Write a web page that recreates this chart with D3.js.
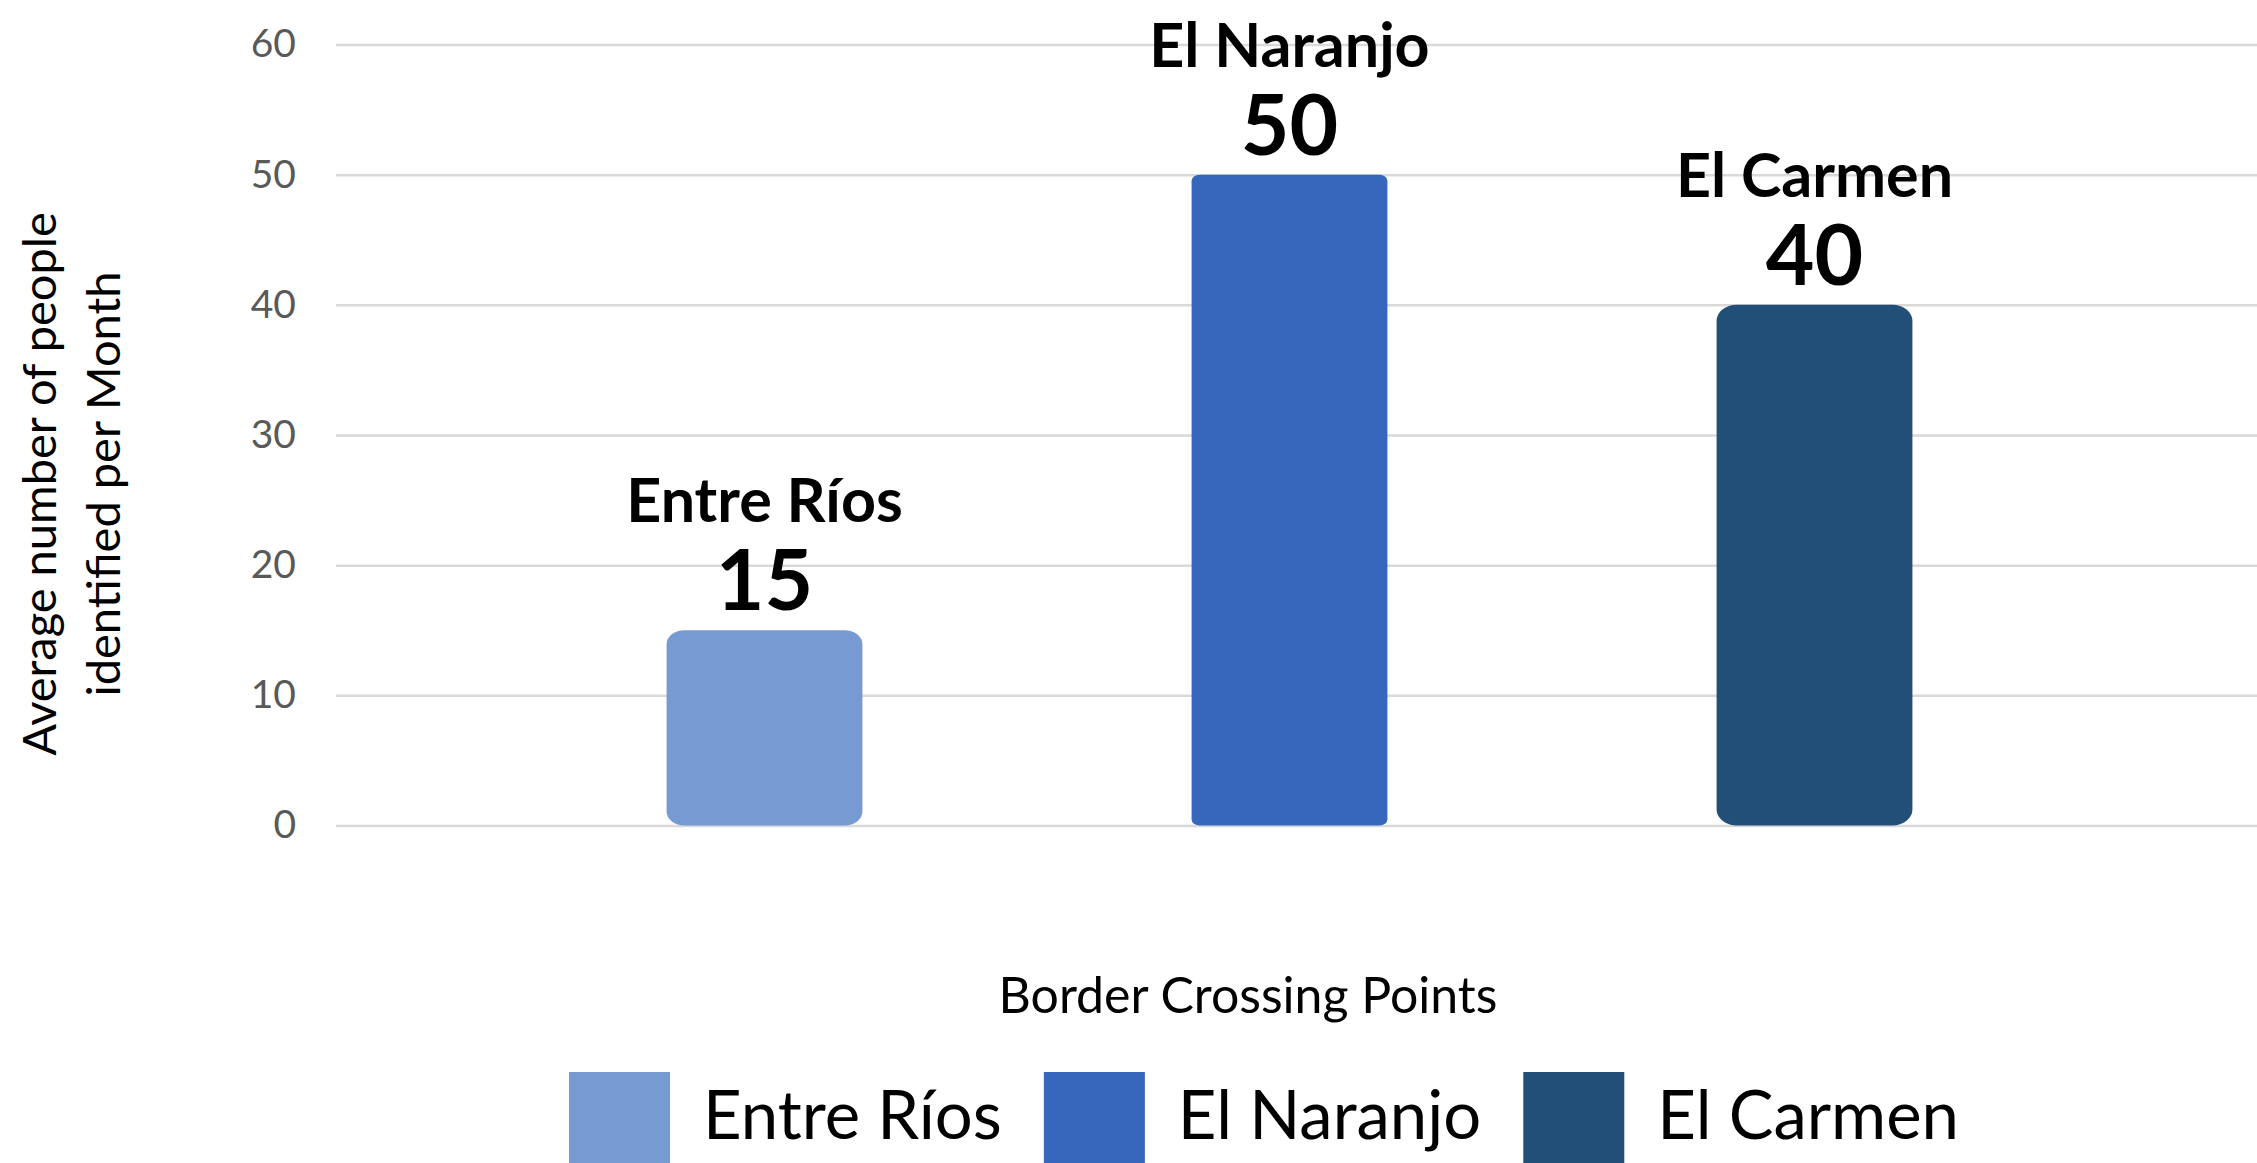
<!DOCTYPE html>
<html>
<head>
<meta charset="utf-8">
<script src="https://cdn.jsdelivr.net/npm/d3@7"></script>
<style>
  html, body { margin: 0; padding: 0; background: #fff; }
  svg { display: block; }
  text { font-family: Lato, "Open Sans", sans-serif; }
</style>
</head>
<body>
<svg id="chart" width="2257" height="1163"></svg>
<script>
// ---- data ----
const categories = ["Entre Ríos", "El Naranjo", "El Carmen"];
const values = [15, 50, 40];
const yTicks = [0, 10, 20, 30, 40, 50, 60];
const xAxisTitle = "Border Crossing Points";
const yAxisTitleLines = ["Average number of people", "identified per Month"];

// ---- styling ----
const colors = ["#779AD3", "#3766BD", "#224F78"];
const corner = [[18, 14], [8, 6], [20, 16]];

const W = 2257, H = 1163;
const svg = d3.select("#chart");

const y = d3.scaleLinear().domain([0, 60]).range([825.5, 44.5]);
const x = d3.scaleBand().domain(categories)
  .range([502, 2077]).paddingInner(0.627).paddingOuter(0.3135);
const color = d3.scaleOrdinal().domain(categories).range(colors);

// gridlines + tick labels
const gx0 = 336;
const yAxis = d3.axisLeft(y).tickValues(yTicks).tickSize(-(W - gx0)).tickPadding(40);
const ga = svg.append("g").attr("transform", `translate(${gx0},0)`).call(yAxis);
ga.select(".domain").remove();
ga.selectAll(".tick line").attr("stroke", "#d9d9d9").attr("stroke-width", 2.5);
ga.selectAll(".tick text")
  .attr("fill", "#595959")
  .style("font-family", "Lato, sans-serif")
  .style("font-size", "39px");

// bars
svg.append("g").selectAll("rect").data(categories).join("rect")
  .attr("x", d => x(d))
  .attr("width", x.bandwidth())
  .attr("y", (d, i) => y(values[i]))
  .attr("height", (d, i) => y(0) - y(values[i]))
  .attr("rx", (d, i) => corner[i][0])
  .attr("ry", (d, i) => corner[i][1])
  .attr("fill", d => color(d));

// data labels
const lab = svg.append("g");
categories.forEach((c, i) => {
  const cx = x(c) + x.bandwidth() / 2;
  const nb = y(values[i]) - 20;
  lab.append("text").attr("x", cx).attr("y", nb)
    .attr("text-anchor", "middle").attr("fill", "#000")
    .style("font-weight", "700").style("font-size", "84px")
    .text(values[i]);
  lab.append("text").attr("x", cx).attr("y", nb - 88)
    .attr("text-anchor", "middle").attr("fill", "#000")
    .style("font-weight", "700").style("font-size", "61px")
    .text(c);
});

// x axis title
svg.append("text").attr("x", 1248).attr("y", 1013)
  .attr("text-anchor", "middle").attr("fill", "#000")
  .style("font-size", "50px").text(xAxisTitle);

// y axis title
const yt = svg.append("text").attr("transform", "translate(56,484) rotate(-90)")
  .attr("text-anchor", "middle").attr("fill", "#000").style("font-size", "47px");
yAxisTitleLines.forEach((t, i) => {
  yt.append("tspan").attr("x", 0).attr("y", i * 64).text(t);
});

// legend
const lg = svg.append("g");
const swW = 101, gapText = 33, gapEntry = 42;
let cursor = 0;
categories.forEach((c, i) => {
  const g = lg.append("g");
  g.append("rect").attr("x", 0).attr("y", 1072).attr("width", swW).attr("height", 110)
    .attr("fill", color(c));
  const t = g.append("text").attr("x", swW + gapText).attr("y", 1139)
    .attr("fill", "#000").style("font-size", "67px").text(c);
  const w = t.node().getComputedTextLength();
  g.attr("transform", `translate(${cursor},0)`);
  cursor += swW + gapText + w + gapEntry;
});
const total = cursor - gapEntry;
lg.attr("transform", `translate(${1264 - total / 2},0)`);
</script>
</body>
</html>
